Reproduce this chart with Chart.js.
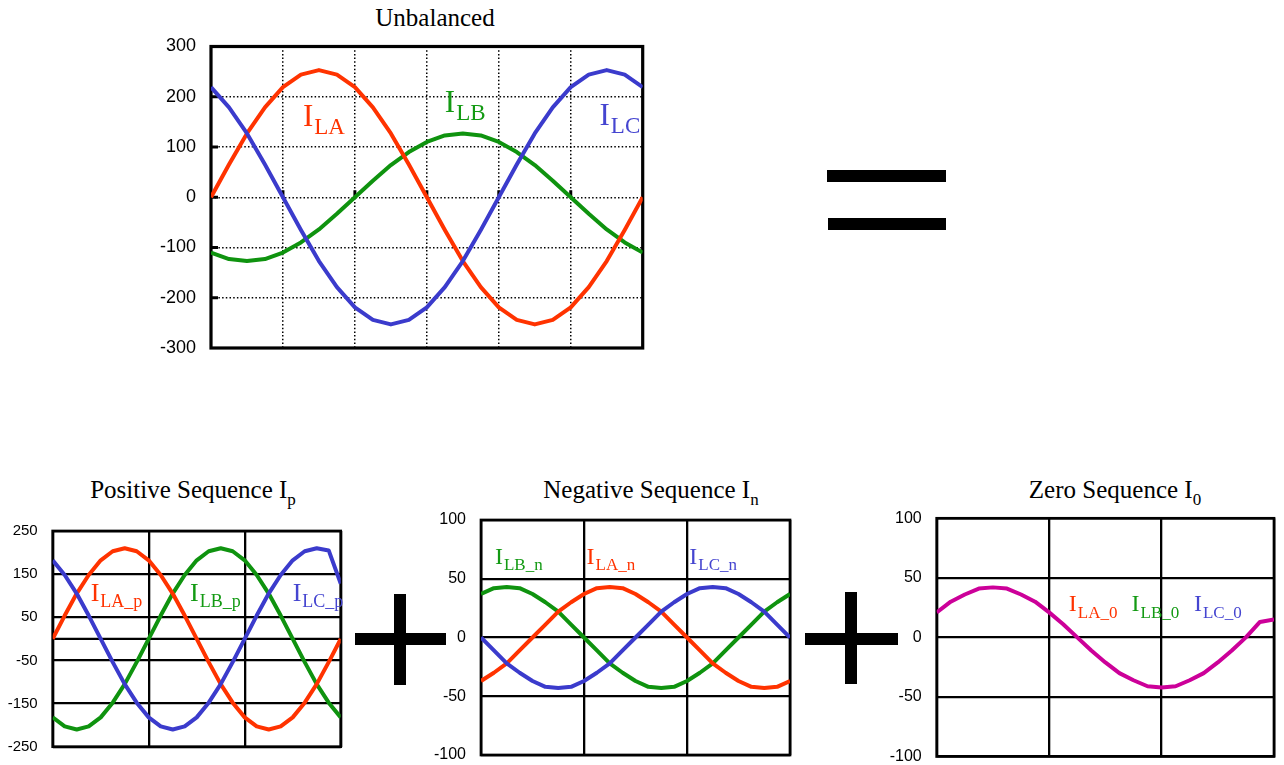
<!DOCTYPE html>
<html>
<head>
<meta charset="utf-8">
<title>Symmetrical components</title>
<script src="https://cdn.jsdelivr.net/npm/chart.js@4/dist/chart.umd.min.js"></script>
<style>
  html, body { margin: 0; padding: 0; background: #fff; width: 1284px; height: 765px; overflow: hidden; }
  canvas { position: absolute; }
  .title { position: absolute; width: 400px; text-align: center; white-space: nowrap;
           font-family: "Liberation Serif", "Times New Roman", serif; font-size: 25px; line-height: 25px; color: #000; }
  .title span { font-size: 17px; line-height: 0; position: relative; top: 7px; }
  .bar { position: absolute; background: #000; }
</style>
</head>
<body>

<div class="title" style="left:235px; top:5px;">Unbalanced</div>
<div class="title" style="left:-7px; top:477px;">Positive Sequence I<span>p</span></div>
<div class="title" style="left:451px; top:477px;">Negative Sequence I<span>n</span></div>
<div class="title" style="left:915px; top:477px;">Zero Sequence I<span>0</span></div>

<canvas id="unbalanced" width="516" height="330" style="left:140px; top:32px;"></canvas>
<canvas id="positive" width="352" height="256" style="left:0px; top:511px;"></canvas>
<canvas id="negative" width="380" height="275" style="left:420px; top:500px;"></canvas>
<canvas id="zero" width="414" height="280" style="left:870px; top:498px;"></canvas>

<!-- "=" -->
<div class="bar" style="left:827px; top:170px; width:119px; height:12px;"></div>
<div class="bar" style="left:828px; top:218px; width:118px; height:12px;"></div>
<!-- "+" between positive and negative -->
<div class="bar" style="left:355px; top:633px; width:91px; height:12px;"></div>
<div class="bar" style="left:394px; top:594px; width:12px; height:91px;"></div>
<!-- "+" between negative and zero -->
<div class="bar" style="left:805px; top:633px; width:93px; height:12px;"></div>
<div class="bar" style="left:845px; top:592px; width:12px; height:92px;"></div>

<script>
// x positions of the samples, electrical degrees over one cycle
const angles = [0, 15, 30, 45, 60, 75, 90, 105, 120, 135, 150, 165, 180,
                195, 210, 225, 240, 255, 270, 285, 300, 315, 330, 345, 360];

// Unbalanced line currents
const unbalancedA = [0, 65, 127, 179, 219, 244, 253, 244, 219, 179, 127, 65, 0,
                     -65, -127, -179, -219, -244, -253, -244, -219, -179, -127, -65, 0];
const unbalancedB = [-110, -123, -127, -123, -110, -90, -64, -33, 0, 33, 64, 90, 110,
                     123, 127, 123, 110, 90, 64, 33, 0, -33, -64, -90, -110];
const unbalancedC = [219, 179, 127, 65, 0, -65, -127, -179, -219, -244, -253, -244, -219,
                     -179, -127, -65, 0, 65, 127, 179, 219, 244, 253, 244, 219];

// Positive sequence
const positiveA = [0, 54, 105, 148, 182, 203, 210, 203, 182, 148, 105, 54, 0,
                   -54, -105, -148, -182, -203, -210, -203, -182, -148, -105, -54, 0];
const positiveB = [-182, -203, -210, -203, -182, -148, -105, -54, 0, 54, 105, 148, 182,
                   203, 210, 203, 182, 148, 105, 54, 0, -54, -105, -148, -182];
const positiveC = [182, 148, 105, 54, 0, -54, -105, -148, -182, -203, -210, -203, -182,
                   -148, -105, -54, 0, 54, 105, 148, 182, 203, 210, 205, 128];

// Negative sequence
const negativeA = [-37, -30, -22, -11, 0, 11, 22, 30, 37, 42, 43, 42, 37,
                   30, 22, 11, 0, -11, -22, -30, -37, -42, -43, -42, -37];
const negativeB = [37, 42, 43, 42, 37, 30, 22, 11, 0, -11, -22, -30, -37,
                   -42, -43, -42, -37, -30, -22, -11, 0, 11, 22, 30, 37];
const negativeC = [0, -11, -22, -30, -37, -42, -43, -42, -37, -30, -22, -11, 0,
                   11, 22, 30, 37, 42, 43, 42, 37, 30, 22, 11, 0];

// Zero sequence (same for all three phases)
const zeroSeq = [21, 30, 36, 41, 42, 41, 36, 30, 21, 11, 0, -11, -21,
                 -30, -36, -41, -42, -41, -36, -30, -21, -11, 0, 13, 15];

// y axis ranges / tick steps
const unbalancedRange = [-300, 300, 100];
const positiveRange = [-250, 250, 100];
const negativeRange = [-100, 100, 50];
const zeroRange = [-100, 100, 50];

const RED = '#ff3300', GREEN = '#0f930f', BLUE = '#3b3bcc', MAGENTA = '#cc0099';
const serif = '"Liberation Serif", "Times New Roman", serif';
const sans = '"Liberation Sans", Arial, sans-serif';

// frame, extra zero line, inside tick marks and the I_xx labels
const decorations = {
  id: 'decorations',
  beforeDatasetsDraw(chart, args, o) {
    const ctx = chart.ctx, a = chart.chartArea, sx = chart.scales.x, sy = chart.scales.y;
    ctx.save();
    ctx.strokeStyle = '#000';
    if (o.zeroLine) {
      ctx.lineWidth = o.gridWidth;
      const y0 = sy.getPixelForValue(0);
      ctx.beginPath(); ctx.moveTo(a.left, y0); ctx.lineTo(a.right, y0); ctx.stroke();
    }
    if (o.innerTicks) {
      ctx.lineWidth = 3;
      const y0 = sy.getPixelForValue(0);
      sy.ticks.forEach(t => {
        if (t.value === sy.min || t.value === sy.max) return;
        const y = sy.getPixelForValue(t.value);
        ctx.beginPath(); ctx.moveTo(a.left, y); ctx.lineTo(a.left + 7, y); ctx.stroke();
      });
      sx.ticks.forEach(t => {
        if (t.value === sx.min || t.value === sx.max) return;
        const x = sx.getPixelForValue(t.value);
        ctx.beginPath(); ctx.moveTo(x, y0); ctx.lineTo(x, y0 - 7); ctx.stroke();
      });
    }
    ctx.lineWidth = o.frameWidth;
    ctx.strokeRect(a.left, a.top, a.right - a.left, a.bottom - a.top);
    ctx.restore();
  },
  afterDatasetsDraw(chart, args, o) {
    const ctx = chart.ctx, sx = chart.scales.x, sy = chart.scales.y;
    ctx.save();
    ctx.textBaseline = 'alphabetic';
    ctx.textAlign = 'left';
    (o.labels || []).forEach(l => {
      const x = sx.getPixelForValue(l.x), y = sy.getPixelForValue(l.y);
      ctx.fillStyle = l.color;
      ctx.font = o.bigSize + 'px ' + serif;
      ctx.fillText('I', x, y);
      const w = ctx.measureText('I').width;
      ctx.font = o.subSize + 'px ' + serif;
      ctx.fillText(l.sub, x + w + 1, y + o.subDrop);
    });
    ctx.restore();
  }
};

function makeChart(id, c) {
  return new Chart(document.getElementById(id), {
    type: 'line',
    data: {
      datasets: c.series.map(s => ({
        data: angles.map((a, i) => ({ x: a, y: s.values[i] })),
        borderColor: s.color,
        borderWidth: 4,
        borderJoinStyle: 'round',
        pointRadius: 0,
        tension: 0,
        fill: false,
        order: s.order
      }))
    },
    options: {
      responsive: false,
      animation: false,
      events: [],
      layout: { padding: c.padding },
      plugins: {
        legend: { display: false },
        tooltip: { enabled: false },
        decorations: c.deco
      },
      scales: {
        x: {
          type: 'linear', min: 0, max: 360,
          ticks: { display: false, stepSize: c.xStep },
          grid: { color: '#000', lineWidth: c.gridWidth, drawTicks: false },
          border: { display: false, dash: c.dash },
          afterFit: s => { s.height = 0; s.paddingLeft = 0; s.paddingRight = 0; }
        },
        y: {
          min: c.range[0], max: c.range[1],
          ticks: { stepSize: c.range[2], color: '#000', padding: 15, font: { family: sans, size: c.tickSize } },
          grid: { color: '#000', lineWidth: c.gridWidth, drawTicks: false },
          border: { display: false, dash: c.dash },
          afterFit: s => { s.width = c.yWidth; s.paddingTop = 0; s.paddingBottom = 0; }
        }
      }
    },
    plugins: [decorations]
  });
}

makeChart('unbalanced', {
  series: [
    { values: unbalancedA, color: RED, order: 2 },
    { values: unbalancedB, color: GREEN, order: 3 },
    { values: unbalancedC, color: BLUE, order: 1 }
  ],
  range: unbalancedRange, xStep: 60, tickSize: 18, yWidth: 71,
  gridWidth: 1.5, dash: [1.5, 2.2],
  padding: { left: 0, top: 14.5, right: 13.3, bottom: 14 },
  deco: {
    frameWidth: 3.2, innerTicks: true, bigSize: 31, subSize: 23, subDrop: 8,
    labels: [
      { x: 76.7, y: 142, sub: 'LA', color: RED },
      { x: 195, y: 170, sub: 'LB', color: '#139a13' },
      { x: 324, y: 144, sub: 'LC', color: '#4545d0' }
    ]
  }
});

makeChart('positive', {
  series: [
    { values: positiveA, color: RED, order: 2 },
    { values: positiveB, color: GREEN, order: 3 },
    { values: positiveC, color: BLUE, order: 1 }
  ],
  range: positiveRange, xStep: 120, tickSize: 15, yWidth: 52.7,
  gridWidth: 2.3, dash: [],
  padding: { left: 0, top: 20, right: 11.3, bottom: 20.3 },
  deco: {
    frameWidth: 2.7, zeroLine: true, gridWidth: 2.3, bigSize: 26, subSize: 18, subDrop: 6,
    labels: [
      { x: 47.5, y: 88, sub: 'LA_p', color: RED },
      { x: 171.6, y: 88, sub: 'LB_p', color: '#139a13' },
      { x: 300, y: 88, sub: 'LC_p', color: '#4545d0' }
    ]
  }
});

makeChart('negative', {
  series: [
    { values: negativeA, color: RED, order: 2 },
    { values: negativeB, color: GREEN, order: 3 },
    { values: negativeC, color: BLUE, order: 1 }
  ],
  range: negativeRange, xStep: 120, tickSize: 16, yWidth: 61,
  gridWidth: 2.3, dash: [],
  padding: { left: 0, top: 20, right: 10, bottom: 20 },
  deco: {
    frameWidth: 2.7, bigSize: 24, subSize: 17, subDrop: 6,
    labels: [
      { x: 16.3, y: 62.6, sub: 'LB_n', color: '#139a13' },
      { x: 123, y: 62.6, sub: 'LA_n', color: RED },
      { x: 242.7, y: 62.6, sub: 'LC_n', color: '#4545d0' }
    ]
  }
});

makeChart('zero', {
  series: [
    { values: zeroSeq, color: MAGENTA, order: 1 }
  ],
  range: zeroRange, xStep: 120, tickSize: 16, yWidth: 66.7,
  gridWidth: 2.3, dash: [],
  padding: { left: 0, top: 20.3, right: 10, bottom: 21.5 },
  deco: {
    frameWidth: 2.7, bigSize: 24, subSize: 17, subDrop: 7,
    labels: [
      { x: 141, y: 22, sub: 'LA_0', color: RED },
      { x: 208, y: 22, sub: 'LB_0', color: '#139a13' },
      { x: 274.6, y: 22, sub: 'LC_0', color: '#4545d0' }
    ]
  }
});
</script>
</body>
</html>
